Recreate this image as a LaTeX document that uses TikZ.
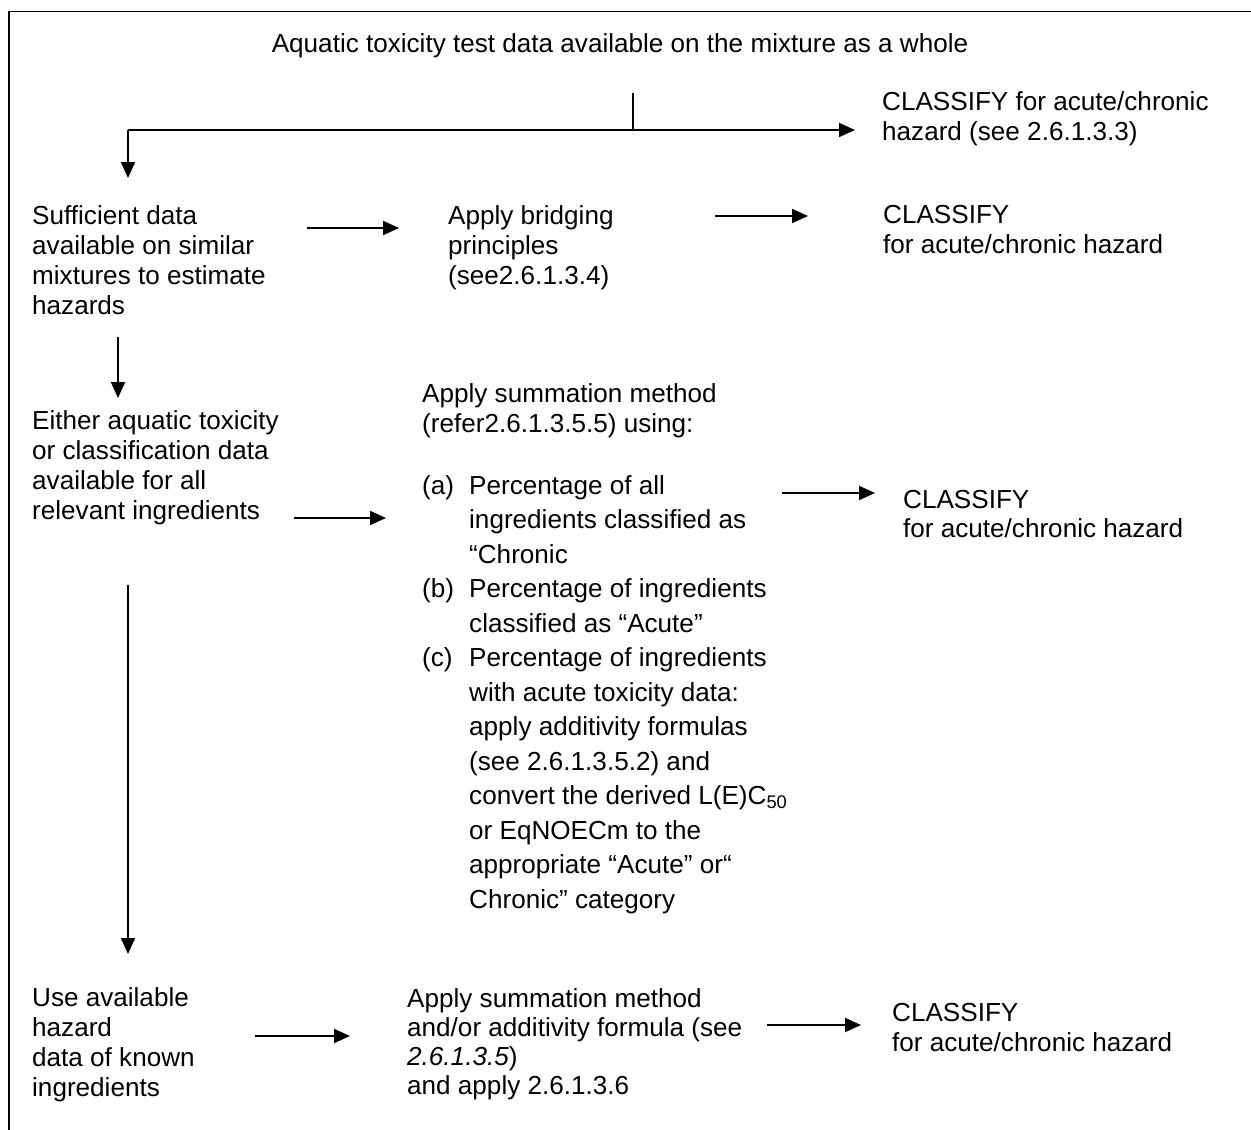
\documentclass[tikz,border=0pt]{standalone}
\usepackage{fontspec}
\setmainfont{Liberation Sans}
\usetikzlibrary{arrows.meta}
\newcommand\txtlines[2]{{\fontsize{26.1}{#1}\selectfont\begin{tabular}[t]{@{}l@{}}#2\end{tabular}}}
\newcommand\itemlab[1]{\makebox[47pt][l]{#1}}
\newcommand\itemgap{\hspace*{47pt}}
\begin{document}
\begin{tikzpicture}[x=1pt,y=-1pt,
  txt/.style={inner sep=0pt, anchor=base west},
  conn/.style={line width=2pt, -{Triangle[length=16pt,width=14pt]}},
  plain/.style={line width=1.2pt},
  frame/.style={line width=1.8pt}]
\useasboundingbox (0,0) rectangle (1251,1130);
% frame
\draw[frame] (9,1135) -- (9,11.5) -- (1256,11.5);

% texts
\node[inner sep=0pt, anchor=base] (title) at (620,52)
  {\fontsize{26.1}{30}\selectfont Aquatic toxicity test data available on the mixture as a whole};
\node[txt] (cl1) at (882,110) {\txtlines{30}{CLASSIFY for acute/chronic\\hazard (see 2.6.1.3.3)}};

\node[txt] (suff) at (32,224) {\txtlines{30}{Sufficient data\\available on similar\\mixtures to estimate\\hazards}};
\node[txt] (bridge) at (448,224) {\txtlines{30}{Apply bridging\\principles\\(see2.6.1.3.4)}};
\node[txt] (cl2) at (883,223) {\txtlines{30.5}{CLASSIFY\\for acute/chronic hazard}};

\node[txt] (either) at (32,429) {\txtlines{30.3}{Either aquatic toxicity\\or classification data\\available for all\\relevant ingredients}};
\node[txt] (summ) at (422,402) {\txtlines{30}{Apply summation method\\(refer2.6.1.3.5.5) using:}};
\node[txt] (list) at (422,494) {\txtlines{34.5}{%
  \itemlab{(a)}Percentage of all\\
  \itemgap ingredients classified as\\
  \itemgap “Chronic\\
  \itemlab{(b)}Percentage of ingredients\\
  \itemgap classified as “Acute”\\
  \itemlab{(c)}Percentage of ingredients\\
  \itemgap with acute toxicity data:\\
  \itemgap apply additivity formulas\\
  \itemgap (see 2.6.1.3.5.2) and\\
  \itemgap convert the derived L(E)C\textsubscript{50}\\
  \itemgap or EqNOECm to the\\
  \itemgap appropriate “Acute” or“\\
  \itemgap Chronic” category}};
\node[txt] (cl3) at (903,508) {\txtlines{29.5}{CLASSIFY\\for acute/chronic hazard}};

\node[txt] (use) at (32,1006) {\txtlines{30}{Use available\\hazard\\data of known\\ingredients}};
\node[txt] (summ2) at (407,1007) {\txtlines{29.3}{Apply summation method\\and/or additivity formula (see\\\textit{2.6.1.3.5})\\and apply 2.6.1.3.6}};
\node[txt] (cl4) at (892,1021) {\txtlines{30}{CLASSIFY\\for acute/chronic hazard}};

% connector coordinates
\coordinate (t0) at (633,93);
\coordinate (t1) at (633,130);
\coordinate (h0) at (128,130);
\coordinate (h1) at (855,130);
\coordinate (d0) at (128,178);
\coordinate (a1s) at (307,228);  \coordinate (a1e) at (399,228);
\coordinate (a2s) at (715,216);  \coordinate (a2e) at (808,216);
\coordinate (v1s) at (118,337);  \coordinate (v1e) at (118,398);
\coordinate (a3s) at (294,518);  \coordinate (a3e) at (386,518);
\coordinate (a4s) at (782,493);  \coordinate (a4e) at (875,493);
\coordinate (v2s) at (128,585);  \coordinate (v2e) at (128,954);
\coordinate (a5s) at (255,1036); \coordinate (a5e) at (350,1036);
\coordinate (a6s) at (767,1025); \coordinate (a6e) at (861,1025);

% connectors
\draw[plain] (t0) -- (t1);
\draw[conn] (h0) -- (h1);
\draw[conn] (h0) -- (d0);
\draw[conn] (a1s) -- (a1e);
\draw[conn] (a2s) -- (a2e);
\draw[conn] (v1s) -- (v1e);
\draw[conn] (a3s) -- (a3e);
\draw[conn] (a4s) -- (a4e);
\draw[conn] (v2s) -- (v2e);
\draw[conn] (a5s) -- (a5e);
\draw[conn] (a6s) -- (a6e);
\end{tikzpicture}
\end{document}
